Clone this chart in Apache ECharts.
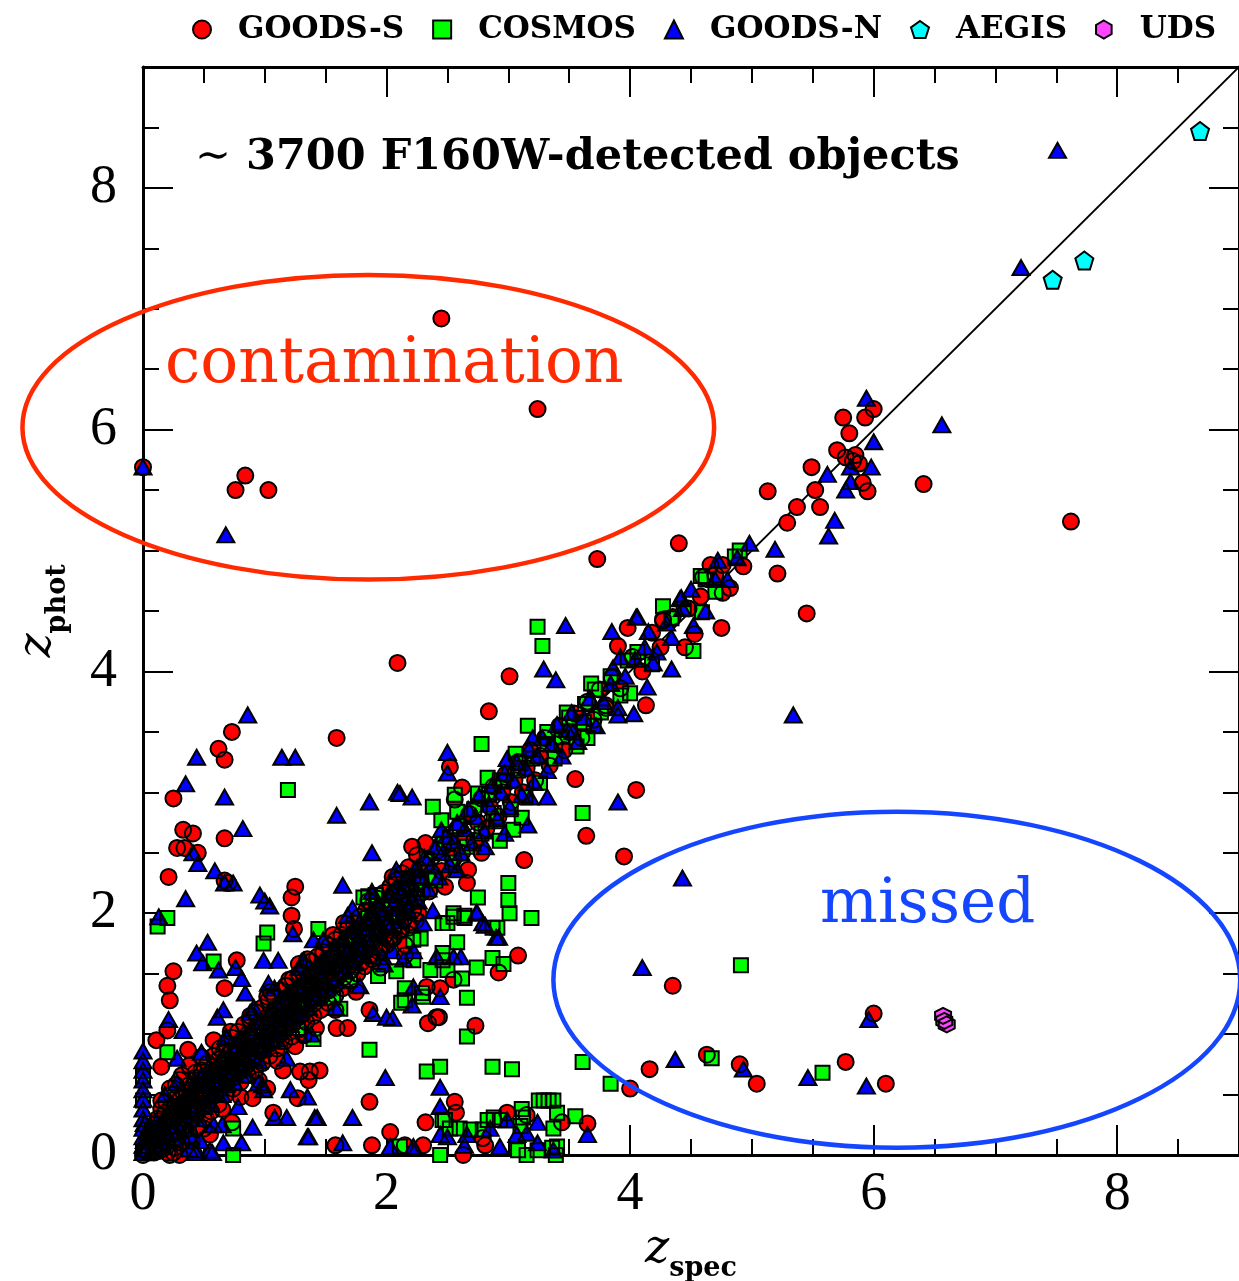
<!DOCTYPE html>
<html><head><meta charset="utf-8">
<script src="https://cdn.jsdelivr.net/npm/echarts@6/dist/echarts.min.js"></script>
<style>html,body{margin:0;padding:0;background:#fff}#c{width:1239px;height:1281px}</style>
</head><body><div id="c"></div>
<script>
const seriesNames = ['GOODS-S','COSMOS','GOODS-N','AEGIS','UDS'];
const tickLabels = ['0','2','4','6','8'];
const oneToOne = [[0,0],[9,9]];

// GOODS-S (red circles)
const goodsSOut = [[2.45,6.92],[3.24,6.17],[0.0,5.69],[0.84,5.62],[0.76,5.50],[1.03,5.50],[3.73,4.93],[4.40,5.06],[2.09,4.07],[3.01,3.96],[2.84,3.67],[1.59,3.45],[0.73,3.50],[0.62,3.36],[0.67,3.27],[0.25,2.95],[0.33,2.69],[0.41,2.66],[0.28,2.54],[0.34,2.54],[0.45,2.50],[0.67,2.62],[0.21,2.30],[0.67,2.27],[0.70,2.25],[1.25,2.22],[1.22,2.13],[1.22,1.98],[1.24,1.87],[0.77,1.61],[0.25,1.52],[0.20,1.40],[0.22,1.28],[0.67,1.38],[1.17,1.40],[1.02,1.31],[1.31,1.51],[1.28,1.58],[1.56,1.82],[1.60,1.72],[1.59,1.05],[1.68,1.05],[1.86,1.20],[2.21,2.55],[2.32,2.58],[2.62,3.04],[2.52,3.21],[2.56,2.94],[2.05,1.79],[2.15,1.74],[2.67,2.36],[2.66,2.25],[2.78,2.50],[2.55,1.45],[2.44,1.38],[2.34,1.09],[2.43,1.14],[2.73,1.07],[2.33,1.39],[2.92,1.51],[3.08,1.65],[3.55,3.11],[4.05,3.02],[3.64,2.64],[3.95,2.47],[3.13,2.44],[3.80,3.72],[4.13,3.72],
[5.13,5.49],[5.37,5.36],[5.52,5.50],[5.56,5.36],[5.29,5.23],[5.49,5.69],[5.70,5.83],[5.75,6.10],[5.93,6.10],[6.00,6.17],[5.80,5.97],[5.77,5.77],[5.85,5.79],[5.91,5.56],[5.95,5.49],[6.41,5.55],[7.62,5.24],[5.21,4.81],[5.45,4.48],[4.75,4.36],[4.66,4.88],[4.76,4.88],[4.93,4.87],[4.76,4.65],[4.82,4.69],[4.60,4.78],[4.27,4.42],[3.98,4.36],[3.90,4.21],[4.53,4.31],[4.45,4.20],[4.25,4.20],[4.27,4.43],[5.88,5.72],[5.83,5.74],
[4.35,1.40],[4.16,0.71],[4.00,0.55],[4.63,0.83],[4.90,0.75],[5.04,0.59],[5.77,0.77],[6.10,0.59],[6.00,1.17],
[0.37,0.87],[0.11,0.95],[0.15,0.73],[0.20,1.03],[1.07,0.35],[0.55,0.17],[0.73,0.27],[1.32,0.99],[0.90,0.47],[1.15,0.70],[1.29,0.69],[1.37,0.69],[1.45,0.70],[1.36,0.62],[1.58,0.08],[1.86,0.44],[1.88,0.08],[2.03,0.19],[2.30,0.08],[2.32,0.27],[2.56,0.44],[2.57,0.35],[2.41,1.14],[2.79,0.14],[2.99,0.35],[3.15,0.33],[3.44,0.27],[3.65,0.26],[2.15,0.08],[2.81,0.08],[0.0,0.0],[0.22,0.0],[0.30,0.0],[2.63,0.0],[1.27,0.47],[1.02,0.55]];
const goodsSBand = [[0.02,0.04],[0.04,0.12],[0.05,0.02],[0.07,0.18],[0.08,0.07],[0.09,0.25],[0.10,0.03],[0.11,0.14],[0.12,0.30],[0.13,0.09],[0.14,0.21],[0.15,0.38],[0.16,0.05],[0.17,0.16],[0.18,0.27],[0.19,0.44],[0.20,0.11],[0.21,0.23],[0.22,0.33],[0.23,0.50],[0.24,0.18],[0.25,0.29],[0.26,0.40],[0.27,0.58],[0.28,0.13],[0.29,0.35],[0.30,0.26],[0.31,0.47],[0.32,0.66],[0.33,0.31],[0.34,0.42],[0.35,0.21],[0.36,0.53],[0.37,0.37],[0.38,0.74],[0.39,0.46],[0.40,0.29],[0.41,0.57],[0.42,0.41],[0.43,0.68],[0.44,0.51],[0.45,0.36],[0.46,0.62],[0.47,0.48],[0.48,0.81],[0.49,0.55],
[0.51,0.47],[0.52,0.60],[0.53,0.55],[0.55,0.68],[0.56,0.50],[0.57,0.62],[0.58,0.73],[0.60,0.57],[0.61,0.66],[0.62,0.79],[0.64,0.61],[0.65,0.71],[0.66,0.84],[0.68,0.64],[0.69,0.75],[0.70,0.70],[0.72,0.86],[0.73,0.67],[0.74,0.78],[0.76,0.91],[0.77,0.72],[0.78,0.83],[0.80,0.76],[0.81,0.95],[0.82,0.80],[0.84,0.88],[0.85,0.74],[0.86,1.00],[0.88,0.85],[0.89,0.93],[0.90,0.81],[0.92,1.05],[0.93,0.90],[0.94,0.98],[0.96,0.86],[0.97,1.10],[0.98,0.95],[1.00,1.03],[1.01,0.91],[1.02,1.14],[1.04,0.99],[1.05,1.08],[1.06,0.95],[1.08,1.20],[1.09,1.03],[1.10,1.12],[1.12,1.00],[1.13,1.25],[1.14,1.09],[1.16,1.17],[1.17,1.05],[1.18,1.30],[1.20,1.14],[1.21,1.22],[1.23,1.09],[1.24,1.35],[1.25,1.19],[1.27,1.27],[1.28,1.14],[1.30,1.40],[1.31,1.24],[1.32,1.33],[1.34,1.20],[1.35,1.45],[1.37,1.29],[1.38,1.38],[1.40,1.25],[1.41,1.51],[1.43,1.34],[1.44,1.44],[1.46,1.30],[1.47,1.57],[1.49,1.40],[1.50,1.49],[1.52,1.36],[1.53,1.62],[1.55,1.45],[1.56,1.55],[1.58,1.41],[1.60,1.68],[1.61,1.51],[1.63,1.61],[1.65,1.47],[1.66,1.74],[1.68,1.57],[1.70,1.67],[1.71,1.53],[1.73,1.80],[1.75,1.62],[1.77,1.73],[1.79,1.59],[1.80,1.86],[1.82,1.68],[1.84,1.79],[1.86,1.65],[1.88,1.93],[1.90,1.74],[1.92,1.86],[1.94,1.71],[1.96,1.99],[1.98,1.81],[2.00,1.92],[2.02,1.78],[2.04,2.06],[2.06,1.88],[2.08,1.99],[2.10,1.85],[2.12,2.13],[2.14,1.95],[2.16,2.06],[2.18,1.92],[2.20,2.20],[2.22,2.03],[2.24,2.13],[2.26,2.00],[2.28,2.27],
[2.32,2.40],[2.35,2.18],[2.38,2.30],[2.42,2.52],[2.45,2.35],[2.48,2.22],[2.52,2.58],[2.55,2.45],[2.58,2.70],[2.62,2.50],[2.65,2.62],[2.68,2.82],[2.72,2.60],[2.75,2.75],[2.78,2.95],[2.82,2.70],[2.85,2.88],[2.88,3.05],[2.92,2.80],[2.95,3.00],[2.98,3.15],[3.02,2.92],[3.05,3.10],[3.08,3.25],[3.12,3.00],[3.15,3.20],[3.18,3.35],[3.22,3.10],[3.26,3.30],[3.30,3.45],[3.34,3.22],[3.38,3.40],[3.42,3.55],[3.46,3.35],[3.50,3.50],[3.55,3.65],[3.60,3.45],[3.65,3.75],[3.70,3.60],[3.75,3.85],[3.80,3.70],[3.85,3.95],[3.92,3.86],[4.02,4.12],[4.10,4.00],[4.18,4.32],[4.35,4.45],[4.48,4.52],[4.58,4.62],[4.70,4.80]];
const goodsSBand2 = [[0.06,0.14],[0.09,0.02],[0.12,0.20],[0.14,0.06],[0.17,0.24],[0.19,0.10],[0.22,0.28],[0.24,0.12],[0.27,0.34],[0.29,0.19],[0.32,0.40],[0.34,0.24],[0.37,0.45],[0.39,0.30],[0.42,0.52],[0.44,0.34],[0.47,0.58],[0.49,0.40],[0.52,0.64],[0.54,0.45],[0.57,0.69],[0.59,0.50],[0.62,0.72],[0.64,0.55],[0.67,0.79],[0.69,0.60],[0.72,0.84],[0.74,0.64],[0.77,0.88],[0.79,0.69],[0.82,0.93],[0.84,0.73],[0.87,0.98],[0.89,0.78],[0.92,1.02],[0.94,0.83],[0.97,1.07],[0.99,0.87],[1.02,1.05],[1.04,0.92],[1.07,1.15],[1.09,0.96],[1.12,1.18],[1.14,1.01],[1.17,1.23],[1.19,1.06],[1.22,1.28],[1.24,1.12],[1.27,1.33],[1.29,1.16],[1.32,1.39],[1.34,1.24],[1.37,1.43],[1.39,1.28],[1.42,1.48],[1.44,1.32],[1.47,1.53],[1.49,1.36],[1.52,1.58],[1.54,1.42],[1.57,1.63],[1.59,1.46],[1.62,1.69],[1.64,1.52],[1.67,1.74],[1.69,1.56],[1.72,1.77],[1.74,1.63],[1.77,1.83],[1.79,1.66],[1.82,1.88],[1.84,1.71],[1.87,1.94],[1.89,1.77],[1.92,1.98],[1.94,1.82],[1.97,2.04],[1.99,1.88],[2.02,2.09],[2.04,1.92],[2.07,2.15],[2.09,1.98],[2.12,2.19],[2.14,2.02],[2.17,2.25],[2.19,2.08],[2.22,2.30],[2.24,2.12],[2.27,2.36],[2.29,2.17],
[0.15,0.45],[0.22,0.55],[0.30,0.62],[0.25,0.02],[0.40,0.12],[0.50,0.22],[0.58,0.95],[0.65,0.38],[0.72,1.02],[0.80,0.48],[0.88,1.15],[0.95,0.62],[1.05,1.35],[1.10,0.78],[1.20,1.45],[1.25,0.90],[1.35,1.62],[1.42,1.05],[1.50,1.75],[1.58,1.20],[1.65,1.92],[1.75,1.35],[1.85,2.10],[1.95,1.55],[2.05,2.30],[2.15,1.65],[2.25,2.48]];
const goodsSBand3 = [[0.08,0.22],[0.13,0.28],[0.18,0.35],[0.23,0.40],[0.28,0.48],[0.33,0.52],[0.38,0.58],[0.43,0.64],[0.48,0.70],[0.53,0.76],[0.58,0.82],[0.63,0.88],[0.68,0.92],[0.73,0.97],[0.78,1.02],[0.83,1.08],[0.88,1.12],[0.93,1.18],[0.98,1.22],[1.03,1.28],[1.08,1.31],[1.13,1.36],[1.18,1.40],[1.23,1.46],[1.28,1.50],[1.33,1.55],[1.38,1.60],[1.43,1.64],[1.48,1.68],[1.53,1.73],[1.58,1.78],[1.63,1.82],[1.68,1.87],[1.73,1.92],[1.78,1.97],[1.83,2.02],[1.88,2.06],[1.93,2.12],[1.98,2.17],[2.03,2.22],[2.08,2.27],[2.13,2.33],[2.18,2.38],
[0.20,0.02],[0.26,0.06],[0.32,0.10],[0.38,0.16],[0.44,0.22],[0.50,0.30],[0.56,0.36],[0.62,0.42],[0.68,0.50],[0.74,0.55],[0.80,0.60],[0.86,0.66],[0.92,0.70],[0.98,0.76],[1.04,0.82],[1.10,0.88],[1.16,0.94],[1.22,0.98],[1.28,1.04],[1.34,1.10],[1.40,1.15],[1.46,1.20],[1.52,1.26],[1.58,1.32],[1.64,1.38],[1.70,1.44],[1.76,1.50],[1.82,1.56],[1.88,1.62],[1.94,1.68],[2.00,1.74],[2.06,1.80],[2.12,1.86],[2.18,1.88],[2.24,1.94]];

// COSMOS (green squares)
const cosmosOut = [[4.91,1.57],[4.67,0.80],[5.58,0.68],[3.84,0.59],[3.61,0.77],[3.24,4.37],[3.28,4.21],[4.27,4.54],[4.59,4.49],[4.52,4.17],[4.58,4.79],[4.90,5.00],[4.70,4.66],[2.78,3.40],[3.61,2.83],[3.48,3.66],[3.16,3.55],[3.65,3.45],[2.56,2.98],[2.38,2.88],[2.75,2.99],[3.00,2.25],[3.00,2.11],[3.01,2.00],[3.19,1.96],[2.91,1.88],[2.64,1.96],[2.55,2.00],[2.46,1.92],[2.28,1.79],[3.71,3.85],[3.63,3.73],[3.70,3.55],[3.98,4.09],[4.00,3.82],[3.32,3.40],[3.06,3.32],[3.10,3.24],[2.83,3.12],[2.93,3.10],[2.88,2.83],[2.93,2.60],[3.04,2.69],[3.11,2.79],[2.45,2.77],[2.25,2.25],[1.19,3.02],[0.12,1.89],[0.20,1.96],[1.02,1.84],[0.99,1.75],[1.44,1.87],[0.58,1.60],[1.91,2.15],[1.85,2.14],[2.58,2.84],[2.64,1.98],[2.50,1.92],[2.66,1.30],[2.66,0.98],[2.15,1.28],[2.30,1.31],[1.62,1.21],[2.22,1.61],[2.50,1.53],[2.46,1.67],[2.87,1.63],[0.20,0.85],[0.74,0.22],[1.86,0.87],[2.33,0.69],[2.44,0.73],[2.46,0.29],[2.87,0.73],[3.03,0.71],[3.37,0.45],[3.33,0.45],[3.29,0.45],[3.25,0.45],[3.40,0.35],[3.37,0.22],[3.40,0.07],[3.55,0.32],[3.11,0.38],[3.12,0.31],[3.10,0.24],[2.83,0.29],[2.88,0.31],[2.93,0.29],[2.79,0.21],[2.69,0.21],[2.60,0.22],[2.52,0.22],[2.48,0.29],[2.11,0.07],[3.08,0.04],[3.24,0.04],[3.36,0.06],[0.74,0.0],[2.44,0.0],[3.39,0.0],[3.15,0.0],[0.0,0.02],[0.0,0.45],[0.0,0.65],[2.62,1.46],[2.96,1.58],[2.74,1.55],[1.27,1.05],[1.40,0.96],[1.56,1.30],[1.70,1.45],[1.93,1.48],[2.08,1.52],[1.81,2.13],[1.82,1.88],[1.92,1.86],[2.52,2.63],[2.55,1.97],[2.22,1.78],[2.87,1.88],[2.75,2.13],[2.58,1.76],[2.46,1.61],[2.36,1.53],[2.29,1.34],[2.12,1.26],[2.15,1.38]];
const cosmosBand = [[0.10,0.12],[0.22,0.19],[0.30,0.36],[0.42,0.38],[0.52,0.58],[0.60,0.55],[0.70,0.77],[0.79,0.71],[0.87,0.96],[0.95,0.90],[1.05,1.13],[1.12,1.05],[1.22,1.30],[1.30,1.21],[1.38,1.47],[1.45,1.36],[1.54,1.63],[1.62,1.53],[1.70,1.80],[1.78,1.70],[1.85,1.96],[1.93,1.84],[2.02,2.11],[2.10,2.00],[2.18,2.29],[2.25,2.12],[2.33,2.45],[2.40,2.27],[2.47,2.58],[2.54,2.42],[2.60,2.72],[2.66,2.55],[2.72,2.86],[2.78,2.66],[2.84,2.98],[2.90,2.76],[2.96,3.09],[3.02,2.86],[3.08,3.18],[3.14,2.96],[3.20,3.28],[3.26,3.08],[3.32,3.50],[3.38,3.28],[3.44,3.46],[3.50,3.62],[3.56,3.38],[3.62,3.58],[3.68,3.90],[3.76,3.66],[3.84,3.96],[3.92,3.80],[4.06,4.16],[4.18,4.06],[4.34,4.44],[4.44,4.52],[4.62,4.76],[4.86,4.95]];

// GOODS-N (blue triangles)
const goodsNOut = [[7.51,8.31],[7.21,7.34],[6.56,6.04],[5.94,6.26],[6.00,5.90],[5.81,5.69],[5.98,5.69],[5.81,5.57],[5.77,5.50],[5.62,5.63],[5.68,5.25],[5.63,5.12],[5.19,5.01],[4.98,5.06],[4.88,4.94],[4.80,4.76],[4.70,4.76],[4.41,4.60],[4.43,4.52],[4.52,4.38],[4.34,4.28],[4.19,4.07],[4.34,4.02],[4.05,4.45],[3.85,4.33],[4.15,4.33],[3.92,4.12],[3.86,4.03],[5.34,3.64],[4.43,2.29],[4.10,1.55],[4.37,0.79],[4.93,0.71],[5.46,0.64],[5.94,0.57],[5.96,1.12],[3.47,4.38],[3.29,4.02],[3.39,3.93],[4.42,4.61],[4.06,4.45],[3.90,3.64],[4.03,3.65],[4.14,3.87],[3.90,2.92],[2.50,3.33],[2.50,3.16],[2.21,2.96],[2.11,2.99],[3.53,3.50],[3.20,3.45],[2.99,3.28],[3.18,2.96],[3.32,2.96],[3.16,2.73],[2.97,2.66],[2.45,2.69],[2.81,2.55],[2.19,2.21],[2.74,2.01],[2.81,1.90],[2.90,1.80],[2.38,2.02],[2.58,2.36],[2.30,1.92],[0.68,5.13],[0.0,5.69],
[0.86,3.64],[0.44,3.29],[1.14,3.29],[1.25,3.29],[0.35,3.07],[0.67,2.96],[0.82,2.70],[0.41,2.50],[0.45,2.41],[0.59,2.35],[0.67,2.25],[0.74,2.25],[0.35,2.12],[0.13,1.97],[0.96,2.15],[1.00,2.10],[1.04,2.06],[1.86,2.92],[2.09,3.00],[1.59,2.81],[1.88,2.50],[1.64,2.23],[1.72,2.04],[1.23,1.83],[0.53,1.76],[0.44,1.67],[0.49,1.59],[0.62,1.53],[0.76,1.55],[0.81,1.46],[0.84,1.34],[0.99,1.61],[1.11,1.61],[1.32,1.61],[1.40,1.78],[0.21,1.12],[0.33,1.03],[0.61,1.14],[0.66,1.20],[0.91,1.22],[1.03,1.42],[1.21,1.18],[1.97,1.64],[2.05,1.69],[2.14,1.62],[2.22,1.69],[2.74,2.00],[2.79,1.92],[2.92,1.80],[2.41,1.64],[2.55,1.64],[2.61,1.64],[2.22,1.39],[2.21,1.24],[2.44,1.31],[2.00,1.14],[1.89,1.17],[2.05,1.13],
[1.99,0.64],[1.36,0.15],[1.72,0.31],[1.43,0.31],[1.18,0.31],[1.08,0.31],[0.90,0.23],[0.81,0.10],[0.66,0.10],[0.55,0.04],[0.44,0.04],[0.39,0.15],[1.21,0.54],[0.99,0.54],[0.95,0.60],[2.44,0.56],[2.44,0.40],[2.44,0.17],[1.64,0.10],[2.22,0.07],[2.03,0.07],[2.50,0.15],[2.66,0.17],[2.64,0.08],[2.85,0.22],[2.99,0.29],[2.93,0.07],[3.07,0.17],[3.15,0.18],[3.24,0.27],[3.24,0.10],[3.37,0.04],[3.65,0.17],[1.35,0.48],[1.41,0.31],[1.35,0.15],[0.65,0.25],[0.47,0.12],[0.43,0.02],[0.57,0.02],[0.28,0.80],
[0.0,0.02],[0.0,0.08],[0.0,0.15],[0.0,0.22],[0.0,0.30],[0.0,0.38],[0.0,0.46],[0.0,0.54],[0.0,0.62],[0.0,0.70],[0.0,0.78],[0.0,0.86],[0.01,0.05],[0.01,0.26],[0.01,0.12]];
const goodsNBand = [[0.05,0.08],[0.08,0.15],[0.10,0.05],[0.13,0.20],[0.15,0.12],[0.18,0.30],[0.20,0.17],[0.23,0.36],[0.25,0.24],[0.28,0.41],[0.30,0.20],[0.33,0.46],[0.35,0.33],[0.38,0.52],[0.40,0.39],[0.43,0.60],[0.45,0.45],[0.48,0.66],[0.50,0.40],[0.53,0.58],[0.56,0.70],[0.58,0.52],[0.61,0.76],[0.63,0.60],[0.66,0.82],[0.68,0.58],[0.71,0.79],[0.73,0.68],[0.76,0.90],[0.78,0.74],[0.81,0.96],[0.83,0.72],[0.86,0.88],[0.88,1.02],[0.91,0.80],[0.93,0.95],[0.96,1.10],[0.98,0.88],[1.01,1.04],[1.03,1.18],[1.06,0.94],[1.08,1.12],[1.11,1.24],[1.13,1.02],[1.16,1.19],[1.18,1.33],[1.21,1.08],[1.23,1.26],[1.26,1.40],[1.28,1.17],[1.31,1.35],[1.33,1.48],[1.36,1.22],[1.38,1.42],[1.41,1.55],[1.43,1.30],[1.46,1.50],[1.48,1.63],[1.51,1.38],[1.53,1.57],[1.56,1.70],[1.58,1.44],[1.61,1.64],[1.63,1.78],[1.66,1.52],[1.68,1.71],[1.71,1.86],[1.73,1.60],[1.76,1.78],[1.78,1.93],[1.81,1.66],[1.83,1.86],[1.86,2.00],[1.88,1.72],[1.91,1.94],[1.93,2.08],[1.96,1.80],[1.98,2.01],[2.01,2.15],[2.03,1.88],[2.06,2.08],[2.08,2.22],[2.11,1.94],[2.13,2.16],[2.16,2.30],[2.18,2.02],[2.21,2.24],[2.23,2.36],[2.26,2.10],[2.28,2.31],[2.31,2.46],[2.34,2.20],[2.37,2.40],[2.40,2.55],[2.43,2.30],[2.46,2.50],[2.49,2.64],[2.52,2.40],[2.55,2.60],[2.58,2.75],[2.61,2.50],[2.64,2.70],[2.67,2.86],[2.70,2.58],[2.73,2.80],[2.76,2.97],[2.80,2.68],[2.84,2.90],[2.87,3.06],[2.91,2.78],[2.94,3.00],[2.97,3.16],[3.01,2.88],[3.04,3.10],[3.07,3.25],[3.11,2.98],[3.14,3.20],[3.17,3.36],[3.21,3.08],[3.24,3.30],[3.28,3.45],[3.32,3.18],[3.36,3.40],[3.40,3.56],[3.44,3.30],[3.48,3.52],[3.52,3.66],[3.57,3.42],[3.62,3.62],[3.67,3.78],[3.72,3.55],[3.78,3.75],[3.84,3.90],[3.90,3.70],[3.96,3.96],[4.04,4.10],[4.12,4.20],[4.22,4.16],[4.30,4.40],[4.50,4.68],[4.62,4.50],[4.72,4.92]];
const goodsNBand2 = [[0.04,0.20],[0.07,0.03],[0.11,0.27],[0.16,0.08],[0.21,0.33],[0.26,0.14],[0.31,0.38],[0.36,0.22],[0.41,0.49],[0.46,0.30],[0.51,0.62],[0.55,0.42],[0.60,0.68],[0.65,0.50],[0.70,0.72],[0.75,0.60],[0.80,0.86],[0.85,0.66],[0.90,0.98],[0.95,0.78],[1.00,0.95],[1.05,1.20],[1.10,0.96],[1.15,1.28],[1.20,1.15],[1.25,1.34],[1.30,1.18],[1.35,1.50],[1.40,1.34],[1.45,1.58],[1.50,1.42],[1.55,1.62],[1.60,1.50],[1.65,1.78],[1.70,1.62],[1.75,1.86],[1.80,1.70],[1.85,1.92],[1.90,1.80],[1.95,2.06],[2.00,1.90],[2.05,2.18],[2.10,2.04],[2.15,2.22],[2.20,2.10],[2.25,2.38],[0.18,0.50],[0.28,0.60],[0.38,0.05],[0.48,0.85],[0.58,0.25],[0.68,0.98],[0.78,0.40],[0.88,1.18],[0.98,0.58],[1.08,1.38],[1.18,0.80],[1.28,1.55],[1.38,1.00],[1.48,1.78],[1.58,1.22],[1.68,1.98],[1.78,1.40],[1.88,2.18],[1.98,1.58],[2.08,2.36]];

// AEGIS (cyan pentagons), UDS (magenta hexagons)
const aegis = [[8.68,8.47],[7.73,7.40],[7.47,7.24]];
const uds = [[6.57,1.15],[6.58,1.11],[6.60,1.08]];

const goodsS = goodsSBand.concat(goodsSBand2, goodsSBand3, goodsSOut);
const cosmos = cosmosBand.concat(cosmosOut);
const goodsN = goodsNBand.concat(goodsNBand2, goodsNOut);

const PENT = 'path://M0,-10L9.51,-3.09L5.88,8.09L-5.88,8.09L-9.51,-3.09Z';
const HEX = 'path://M0,-10L8.66,-5L8.66,5L0,10L-8.66,5L-8.66,-5Z';
const colors = {'GOODS-S':'#ff0000','COSMOS':'#00ff00','GOODS-N':'#0000ff','AEGIS':'#00ffff','UDS':'#ff44ff'};
const symbols = {'GOODS-S':'circle','COSMOS':'rect','GOODS-N':'triangle','AEGIS':PENT,'UDS':HEX};
const sizes = {'GOODS-S':16,'COSMOS':14,'GOODS-N':[17,15],'AEGIS':18,'UDS':16};
const dataOf = {'GOODS-S':goodsS,'COSMOS':cosmos,'GOODS-N':goodsN,'AEGIS':aegis,'UDS':uds};

const chart = echarts.init(document.getElementById('c'), null, {renderer:'canvas'});
const labelFont = {fontFamily:'Liberation Serif', fontSize:54, color:'#000'};
function axis(pos, step, major, labels, extra) {
  const a = {
    type:'value', min:0, max:9, interval:step, position:pos,
    axisLine:{show:major, onZero:false, lineStyle:{color:'#000', width:3}},
    axisTick:{show:true, inside:true, length: major?30:16, lineStyle:{color:'#000', width:2}},
    axisLabel:{show:labels, margin: (pos==='left'?26:13), ...labelFont,
      formatter: v => { const i = tickLabels.indexOf(String(v)); return i >= 0 ? tickLabels[i] : ''; }},
    splitLine:{show:false}, axisPointer:{show:false}
  };
  return Object.assign(a, extra || {});
}
const nameRich = {
  z:{fontFamily:'DejaVu Serif', fontStyle:'italic', fontSize:46, color:'#000', verticalAlign:'top', lineHeight:50},
  s:{fontFamily:'DejaVu Serif', fontWeight:'bold', fontSize:27, color:'#000', verticalAlign:'bottom', lineHeight:56}
};
// all filled symbols first, then every black outline on top of them
const fillSeries = seriesNames.map(n => ({name:n, type:'scatter', data:dataOf[n], symbol:symbols[n], symbolSize:sizes[n],
  itemStyle:{color:colors[n], borderWidth:0, opacity:1}, z:2}));
const outlineSeries = seriesNames.map(n => ({name:n, type:'scatter', data:dataOf[n], symbol:symbols[n], symbolSize:sizes[n],
  itemStyle:{color:'rgba(0,0,0,0)', borderColor:'#000', borderWidth:2, opacity:1}, z:3}));

chart.setOption({
  animation:false,
  backgroundColor:'#fff',
  title:{text:'{t|∼} 3700 F160W-detected objects', left:195, top:134, padding:0,
    textStyle:{fontFamily:'DejaVu Serif', fontWeight:'bold', fontSize:43, color:'#000', lineHeight:48,
      rich:{t:{fontFamily:'DejaVu Serif', fontWeight:'normal', fontSize:43, color:'#000', lineHeight:48}}}},
  legend:{left:187, top:9, itemWidth:18, itemHeight:18, itemGap:28,
    data: seriesNames.map(n => ({name:n, icon:symbols[n], itemStyle:{color:colors[n], borderColor:'#000', borderWidth:2}})),
    textStyle:{fontFamily:'DejaVu Serif', fontWeight:'bold', fontSize:31, color:'#000', padding:[0,0,0,22]}},
  grid:{left:143, top:67, width:1096, height:1088, containLabel:false, outerBoundsMode:'none'},
  xAxis:[
    axis('bottom',2,true,true,{name:'{z|z}{s|spec}', nameLocation:'middle', nameGap:61, nameTextStyle:{rich:nameRich}}),
    axis('bottom',0.5,false,false),
    axis('top',2,true,false),
    axis('top',0.5,false,false)
  ],
  yAxis:[
    axis('left',2,true,true,{name:'{z|z}{s|phot}', nameLocation:'middle', nameGap:72, nameTextStyle:{rich:nameRich}}),
    axis('left',0.5,false,false),
    axis('right',2,true,false),
    axis('right',0.5,false,false)
  ],
  series:[
    {type:'line', data:oneToOne, symbol:'none', lineStyle:{color:'#000', width:1.8}, silent:true, z:1, legendHoverLink:false}
  ].concat(fillSeries, outlineSeries)
});

function px(p){ return chart.convertToPixel({gridIndex:0}, p); }
function ell(c, rx, ry, color){
  const p0 = px(c), p1 = px([c[0]+rx, c[1]-ry]);
  return {type:'ellipse', z:100, silent:true, shape:{cx:p0[0], cy:p0[1], rx:p1[0]-p0[0], ry:p1[1]-p0[1]},
    style:{fill:'none', stroke:color, lineWidth:4.5}};
}
function txt(p, s, color, size){
  const q = px(p);
  return {type:'text', z:100, silent:true, x:q[0], y:q[1],
    style:{text:s, fill:color, font:size + 'px "DejaVu Serif"', align:'left', verticalAlign:'middle'}};
}
chart.setOption({graphic:[
  ell([1.85,6.02],2.84,1.26,'#ff2a00'),
  ell([6.19,1.45],2.82,1.39,'#1446ff'),
  txt([0.18,6.53],'contamination','#ff2a00',63),
  txt([5.56,2.055],'missed','#1446ff',61)
]});
</script></body></html>
